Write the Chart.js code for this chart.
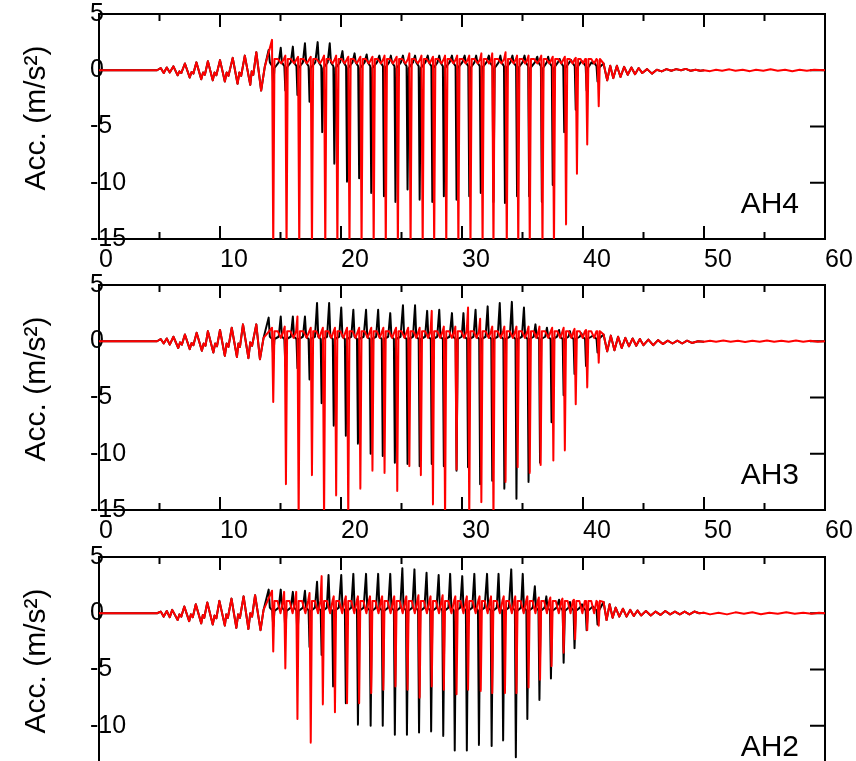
<!DOCTYPE html>
<html>
<head>
<meta charset="utf-8">
<title>Acc. AH4 / AH3 / AH2</title>
<script src="https://cdn.jsdelivr.net/npm/chart.js@4.4.1/dist/chart.umd.min.js"></script>
<style>
  html, body { margin: 0; padding: 0; background: #fff; overflow: hidden; }
  body { width: 856px; height: 761px; position: relative; overflow: hidden; }
  canvas { position: absolute; left: 0; }
</style>
</head>
<body>
<canvas id="ah4" width="870" height="281" style="top:0px"></canvas>
<canvas id="ah3" width="870" height="281" style="top:271px"></canvas>
<canvas id="ah2" width="870" height="281" style="top:543px"></canvas>
<script>
// axis setup (s and m/s2)
const xTicks = [0, 10, 20, 30, 40, 50, 60]
const yTicks = [5, 0, -5, -10, -15]

// ---------- AH4 ----------
// build-up before the pulses, [time, acc]
const ah4Pre = [[0,0],[4.8,0],[5.1,0.2],[5.35,-0.25],[5.6,0.25],[5.85,-0.2],[6.15,0.35],[6.5,-0.45],[6.65,-0.1],[6.8,-0.25],[7.1,0.6],[7.5,-0.65],[7.65,-0.15],[7.8,-0.3],[8.05,0.7],[8.45,-0.8],[8.6,-0.2],[8.75,-0.4],[9.0,0.8],[9.4,-0.9],[9.55,-0.2],[9.7,-0.45],[10.0,0.9],[10.4,-1.0],[10.55,-0.2],[10.7,-0.5],[11.05,1.1],[11.45,-1.2],[11.6,-0.2],[11.75,-0.5],[12.05,1.3],[12.5,-1.3],[12.62,-0.1],[12.75,-0.4],[13.0,1.6],[13.4,-1.8],[13.7,0.3]]
const ah4RedT = [14.4, 15.5, 16.55, 17.6, 18.7, 19.7, 20.7, 21.7, 22.7, 23.7, 24.7, 25.75, 26.75, 27.7, 28.7, 29.7, 30.7, 31.7, 32.6, 33.7, 34.65, 35.6, 36.65, 37.6, 38.6, 39.5, 40.35, 41.3]
const ah4RedDip = [-16, -16, -16, -16, -16, -16, -16, -16, -16, -16, -16, -16, -16, -16, -16, -16, -16, -16, -16, -16, -16, -16, -16, -16, -13.7, -9.2, -6.6, -3.2]
const ah4RedPeak = [2.7, 1.3, 1.2, 1.2, 1.3, 1.3, 1.2, 1.2, 1.2, 1.3, 1.2, 1.5, 1.3, 1.2, 1.3, 1.3, 1.3, 1.5, 1.5, 1.6, 1.3, 1.3, 1.3, 1.2, 1.2, 1.1, 1.0, 0.9]
const ah4BlackT = [14.4, 15.4, 16.4, 17.4, 18.45, 19.45, 20.5, 21.5, 22.5, 23.55, 24.5, 25.5, 26.5, 27.55, 28.5, 29.55, 30.6, 31.55, 32.6, 33.55, 34.55, 35.55, 36.6, 37.5, 38.45, 39.4, 40.3, 41.2]
const ah4BlackDip = [-1.5, -1.8, -2.2, -2.8, -5.5, -8.3, -9.9, -9.6, -10.9, -11.2, -11.7, -10.6, -11.5, -11.7, -11.2, -11.5, -11.2, -10.9, -11.7, -11.8, -11.2, -11.2, -11.7, -10.2, -5.5, -3.5, -1.8, -1.0]
const ah4BlackPeak = [1.8, 2.0, 2.1, 2.4, 2.5, 2.4, 1.7, 1.5, 1.4, 1.3, 1.3, 1.3, 1.3, 1.3, 1.3, 1.3, 1.3, 1.3, 1.3, 1.3, 1.3, 1.3, 1.2, 1.2, 1.0, 0.9, 0.8, 0.6]
const ah4Tail = [[41.7,0.6],[42.0,-0.9],[42.25,0.4],[42.5,-0.7],[42.8,0.4],[43.1,-0.6],[43.4,0.3],[43.7,-0.4],[44.0,0.25],[44.3,-0.35],[44.6,0.2],[44.9,-0.25],[45.3,0.1],[45.7,-0.3],[46.1,0.05],[46.5,-0.1],[46.9,0.1],[47.3,-0.05],[47.7,0.1],[48.1,0.0],[48.5,0.12],[48.9,-0.05],[49.3,0.05],[49.7,-0.05],[50.0,0.0]]
const ah4RedEnd = [[50.5,-0.08],[51.0,0.05],[51.5,-0.05],[52.1,0.08],[52.6,-0.05],[53.2,0.05],[53.8,-0.08],[54.3,0.05],[54.9,-0.05],[55.5,0.08],[56.1,-0.05],[56.7,0.05],[57.3,-0.08],[57.9,0.05],[58.5,-0.05],[59.1,0.05],[60,0.0]]

// ---------- AH3 ----------
const ah3Pre = [[0,0],[4.8,0],[5.1,0.2],[5.35,-0.2],[5.6,0.25],[5.85,-0.3],[6.15,0.4],[6.55,-0.6],[6.7,-0.1],[6.85,-0.3],[7.1,0.6],[7.5,-0.7],[7.65,-0.15],[7.8,-0.35],[8.07,0.75],[8.5,-0.85],[8.65,-0.2],[8.8,-0.4],[9.0,0.9],[9.45,-1.0],[9.6,-0.2],[9.75,-0.45],[10.0,1.0],[10.4,-1.3],[10.55,-0.2],[10.7,-0.5],[10.97,1.2],[11.4,-1.4],[11.52,-0.2],[11.65,-0.5],[11.9,1.5],[12.35,-1.5],[12.5,-0.1],[12.65,-0.4],[13.0,1.5],[13.3,-1.6],[13.6,0.3]]
const ah3RedT = [14.4, 15.45, 16.5, 17.6, 18.6, 19.6, 20.6, 21.6, 22.6, 23.6, 24.65, 25.65, 26.6, 27.6, 28.6, 29.55, 30.6, 31.6, 32.6, 33.6, 34.6, 35.6, 36.5, 37.55, 38.5, 39.4, 40.35, 41.3]
const ah3RedDip = [-5.4, -12.7, -16, -11.9, -16, -13.7, -16, -13.1, -11.5, -11.7, -13.3, -11.1, -11.9, -14.5, -16, -11.4, -16, -14.3, -16, -12.5, -11.2, -11.7, -11.0, -10.6, -9.7, -5.6, -4.1, -1.9]
const ah3RedPeak = [1.2, 1.3, 2.2, 1.2, 1.2, 1.2, 1.2, 1.2, 1.2, 1.2, 1.2, 1.2, 1.2, 2.7, 1.3, 1.3, 3.0, 2.0, 1.3, 1.3, 1.3, 1.3, 1.3, 1.2, 1.2, 1.1, 1.0, 0.9]
const ah3BlackT = [14.4, 15.4, 16.4, 17.4, 18.4, 19.4, 20.4, 21.4, 22.45, 23.45, 24.45, 25.5, 26.5, 27.5, 28.5, 29.55, 30.5, 31.5, 32.5, 33.5, 34.5, 35.5, 36.45, 37.4, 38.4, 39.3, 40.25, 41.2]
const ah3BlackDip = [-1.5, -2.2, -2.4, -3.4, -5.5, -7.5, -8.4, -9.1, -10.0, -10.2, -10.8, -10.9, -11.1, -10.9, -11.1, -11.5, -11.2, -12.7, -12.4, -13.1, -14.0, -12.5, -10.8, -7.2, -4.8, -2.9, -2.2, -1.0]
const ah3BlackPeak = [2.1, 2.2, 2.2, 2.2, 3.4, 3.4, 3.0, 2.8, 2.8, 2.8, 2.5, 3.2, 3.2, 2.7, 2.8, 2.5, 2.5, 2.8, 3.1, 3.4, 3.5, 3.0, 1.5, 1.2, 1.0, 0.9, 0.7, 0.5]
const ah3Tail = [[41.7,0.6],[42.0,-0.9],[42.3,0.5],[42.6,-0.8],[42.9,0.4],[43.2,-0.6],[43.5,0.3],[43.8,-0.45],[44.1,0.25],[44.4,-0.4],[44.7,0.2],[45.0,-0.35],[45.4,0.15],[45.8,-0.35],[46.2,0.1],[46.6,-0.25],[47.0,0.05],[47.4,-0.2],[47.8,0.05],[48.2,-0.2],[48.6,0.05],[49.0,-0.15],[49.5,0.0],[50.0,-0.05]]
const ah3RedEnd = [[50.5,0.05],[51.0,-0.05],[51.6,0.06],[52.2,-0.05],[52.8,0.05],[53.4,-0.06],[54.0,0.05],[54.6,-0.05],[55.2,0.06],[55.8,-0.05],[56.4,0.05],[57.0,-0.05],[57.6,0.06],[58.2,-0.05],[58.8,0.05],[59.4,-0.05],[60,0.0]]

// ---------- AH2 ----------
const ah2Pre = [[0,0],[4.8,0],[5.1,0.15],[5.35,-0.3],[5.6,0.2],[5.85,-0.35],[6.05,0.3],[6.5,-0.6],[6.65,-0.1],[6.8,-0.3],[7.05,0.6],[7.45,-0.7],[7.6,-0.1],[7.75,-0.35],[8.0,0.8],[8.45,-0.9],[8.58,-0.15],[8.7,-0.4],[8.95,0.95],[9.4,-1.0],[9.55,-0.2],[9.7,-0.45],[9.95,1.1],[10.4,-1.1],[10.52,-0.1],[10.65,-0.4],[10.95,1.3],[11.35,-1.3],[11.5,-0.1],[11.65,-0.4],[11.95,1.5],[12.35,-1.4],[12.5,0.0],[12.65,-0.3],[12.9,1.6],[13.35,-1.5],[13.6,0.3]]
const ah2RedT = [14.4, 15.4, 16.4, 17.5, 18.5, 19.5, 20.5, 21.5, 22.5, 23.5, 24.5, 25.5, 26.5, 27.5, 28.5, 29.55, 30.5, 31.55, 32.5, 33.55, 34.5, 35.5, 36.45, 37.4, 38.4, 39.35, 40.35, 41.3]
const ah2RedDip = [-3.4, -4.9, -9.4, -11.5, -8.1, -8.8, -8.0, -8.0, -7.1, -6.8, -6.5, -6.8, -7.5, -6.5, -6.8, -7.2, -6.8, -6.9, -7.1, -7.1, -7.1, -6.6, -5.9, -4.7, -3.5, -2.3, -1.5, -1.1]
const ah2RedPeak = [2.0, 1.9, 1.9, 1.8, 3.3, 1.5, 1.5, 1.5, 1.5, 1.5, 1.5, 1.5, 1.6, 1.5, 1.6, 1.5, 1.5, 1.5, 1.5, 1.5, 1.5, 1.5, 1.4, 1.4, 1.3, 1.2, 1.1, 1.0]
const ah2BlackT = [14.4, 15.4, 16.4, 17.4, 18.4, 19.35, 20.4, 21.4, 22.45, 23.45, 24.45, 25.45, 26.45, 27.45, 28.45, 29.4, 30.4, 31.4, 32.45, 33.4, 34.45, 35.4, 36.4, 37.35, 38.4, 39.3, 40.3, 41.2]
const ah2BlackDip = [-1.2, -1.6, -2.2, -3.0, -3.7, -6.5, -8.0, -9.9, -10.0, -10.0, -10.8, -10.8, -10.6, -10.5, -10.9, -12.2, -12.2, -11.7, -11.8, -11.3, -12.8, -9.4, -7.7, -5.8, -4.4, -3.1, -1.5, -1.0]
const ah2BlackPeak = [2.1, 2.1, 1.9, 2.0, 2.8, 3.4, 3.4, 3.5, 3.5, 3.5, 3.5, 4.0, 3.9, 3.6, 3.4, 3.5, 3.3, 3.5, 3.5, 3.5, 3.9, 3.5, 2.4, 1.5, 1.2, 1.0, 0.8, 0.6]
const ah2Tail = [[41.7,1.0],[41.95,-0.6],[42.2,0.8],[42.45,-0.4],[42.7,0.5],[43.0,-0.3],[43.3,0.4],[43.6,-0.3],[43.9,0.3],[44.2,-0.25],[44.5,0.25],[44.8,-0.2],[45.2,0.2],[45.6,-0.2],[46.0,0.15],[46.4,-0.15],[46.8,0.2],[47.2,-0.1],[47.6,0.15],[48.0,-0.1],[48.4,0.15],[48.8,-0.1],[49.2,0.15],[49.6,0.0],[50.0,0.05]]
const ah2RedEnd = [[50.5,-0.1],[51.2,0.05],[51.9,-0.1],[52.6,0.08],[53.3,-0.05],[54.0,0.08],[54.7,-0.08],[55.4,0.05],[56.1,-0.05],[56.8,0.08],[57.5,-0.05],[58.2,0.05],[58.9,-0.05],[59.5,0.05],[60,0]]

// level the traces sit at between pulses
const levels = {
  ah4: { red: 1.0, redSag: 0.6, black: 0.7 },
  ah3: { red: 0.9, redSag: 0.3, black: 0.4 },
  ah2: { red: 1.1, redSag: 0.0, black: 0.5 }
}

const toPts = arr => arr.map(p => ({ x: p[0], y: p[1] }))

// red: short rise just before each pulse, then flat top with a small sag
function redTrace(pre, times, dips, peaks, lv, tail, end) {
  const pts = toPts(pre)
  times.forEach((t, i) => {
    pts.push({ x: t - 0.1, y: peaks[i] }, { x: t, y: dips[i] }, { x: t + 0.1, y: lv.red })
    const next = times[i + 1]
    if (next !== undefined) {
      const gap = next - t
      pts.push({ x: t + 0.35 * gap, y: lv.red }, { x: t + 0.6 * gap, y: lv.redSag }, { x: t + 0.8 * gap, y: lv.red })
    }
  })
  return pts.concat(toPts(tail), toPts(end))
}

// black: narrow upward kick a bit before each pulse
function blackTrace(pre, times, dips, peaks, lv, tail) {
  const pts = toPts(pre)
  times.forEach((t, i) => {
    pts.push({ x: t - 0.38, y: peaks[i] }, { x: t - 0.28, y: lv.black }, { x: t - 0.08, y: lv.black / 2 },
      { x: t, y: dips[i] }, { x: t + 0.1, y: 0.2 })
    const next = times[i + 1]
    if (next !== undefined) pts.push({ x: t + 0.45 * (next - t), y: lv.black })
  })
  return pts.concat(toPts(tail))
}

Chart.defaults.font.family = "'Liberation Sans', Arial, Helvetica, sans-serif"
Chart.defaults.color = '#000'

// box around the plot, inward ticks, axis title and station name
const panelFrame = {
  id: 'panelFrame',
  beforeDatasetsDraw(chart) {
    const { ctx, chartArea: a, scales } = chart
    ctx.save()
    ctx.strokeStyle = '#000'
    ctx.lineWidth = 2
    ctx.strokeRect(a.left, a.top, a.right - a.left, a.bottom - a.top)
    ctx.beginPath()
    for (let t = 0; t <= 60; t += 5) {
      const px = scales.x.getPixelForValue(t)
      const len = t % 10 === 0 ? 13 : 7
      ctx.moveTo(px, a.top); ctx.lineTo(px, a.top + len)
      ctx.moveTo(px, a.bottom); ctx.lineTo(px, a.bottom - len)
    }
    yTicks.forEach(v => {
      const py = scales.y.getPixelForValue(v)
      ctx.moveTo(a.right, py); ctx.lineTo(a.right - 15, py)
    })
    ctx.stroke()
    ctx.restore()
  },
  afterDraw(chart, args, opts) {
    const { ctx, chartArea: a } = chart
    ctx.save()
    ctx.fillStyle = '#000'
    ctx.font = "30px 'Liberation Sans', Arial, sans-serif"
    ctx.textAlign = 'right'
    ctx.textBaseline = 'alphabetic'
    ctx.fillText(opts.name, a.right - 26, a.top + 199)
    ctx.translate(45, a.top + 104)
    ctx.rotate(-Math.PI / 2)
    ctx.textAlign = 'center'
    ctx.fillText('Acc. (m/s\u00B2)', 0, 0)
    ctx.restore()
  }
}

function makePanel(id, name, red, black) {
  return new Chart(document.getElementById(id), {
    type: 'line',
    data: {
      datasets: [
        { data: red, borderColor: '#ff0000', borderWidth: 2, pointRadius: 0, tension: 0, borderJoinStyle: 'round' },
        { data: black, borderColor: '#000000', borderWidth: 2, pointRadius: 0, tension: 0, borderJoinStyle: 'round' }
      ]
    },
    options: {
      responsive: false,
      animation: false,
      events: [],
      layout: { padding: { left: 99, right: 45, top: 14, bottom: 0 } },
      plugins: {
        legend: { display: false },
        tooltip: { enabled: false },
        panelFrame: { name: name }
      },
      scales: {
        x: {
          type: 'linear', min: xTicks[0], max: xTicks[xTicks.length - 1],
          grid: { display: false, drawTicks: false }, border: { display: false },
          afterBuildTicks: s => { s.ticks = xTicks.map(v => ({ value: v })) },
          ticks: { align: 'start', padding: 6, font: { size: 25 } }
        },
        y: {
          min: yTicks[yTicks.length - 1], max: yTicks[0],
          grid: { display: false, drawTicks: false }, border: { display: false },
          afterBuildTicks: s => { s.ticks = yTicks.map(v => ({ value: v })) },
          ticks: { mirror: true, padding: -3, font: { size: 25 } }
        }
      }
    },
    plugins: [panelFrame]
  })
}

makePanel('ah4', 'AH4',
  redTrace(ah4Pre, ah4RedT, ah4RedDip, ah4RedPeak, levels.ah4, ah4Tail, ah4RedEnd),
  blackTrace(ah4Pre, ah4BlackT, ah4BlackDip, ah4BlackPeak, levels.ah4, ah4Tail))
makePanel('ah3', 'AH3',
  redTrace(ah3Pre, ah3RedT, ah3RedDip, ah3RedPeak, levels.ah3, ah3Tail, ah3RedEnd),
  blackTrace(ah3Pre, ah3BlackT, ah3BlackDip, ah3BlackPeak, levels.ah3, ah3Tail))
makePanel('ah2', 'AH2',
  redTrace(ah2Pre, ah2RedT, ah2RedDip, ah2RedPeak, levels.ah2, ah2Tail, ah2RedEnd),
  blackTrace(ah2Pre, ah2BlackT, ah2BlackDip, ah2BlackPeak, levels.ah2, ah2Tail))
</script>
</body>
</html>
